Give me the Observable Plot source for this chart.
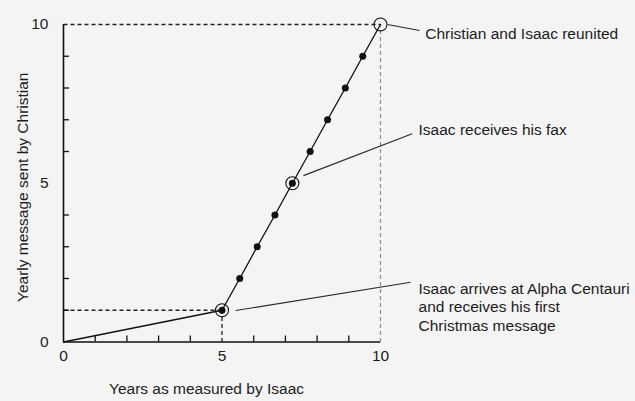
<!DOCTYPE html>
<html>
<head>
<meta charset="utf-8">
<script src="https://cdn.jsdelivr.net/npm/d3@7"></script>
<script src="https://cdn.jsdelivr.net/npm/@observablehq/plot@0.6"></script>
<style>
  html, body { margin: 0; padding: 0; background: #f4f4f4; }
  #chart svg { display: block; background: #f4f4f4; }
</style>
</head>
<body>
<div id="chart"></div>
<script>
// Years as measured by Isaac (x) for each yearly message sent by Christian (y)
const isaacYears = [0, 5, 5.56, 6.11, 6.67, 7.22, 7.78, 8.33, 8.89, 9.44, 10];
const christianMessages = [0, 1, 2, 3, 4, 5, 6, 7, 8, 9, 10];

// Highlighted events
const eventYears = [5, 7.22, 10];
const eventMessages = [1, 5, 10];
const eventLabels = [
  "Isaac arrives at Alpha Centauri\nand receives his first\nChristmas message",
  "Isaac receives his fax",
  "Christian and Isaac reunited"
];
// label anchors (data units)
const labelYears = [11.2, 11.2, 11.41];
const labelMessages = [1.12, 6.72, 9.72];
// leader lines (data units)
const leaderStartX = [5.43, 7.57, 10.22];
const leaderStartY = [0.99, 5.24, 10.0];
const leaderEndX = [10.95, 11.0, 11.23];
const leaderEndY = [1.88, 6.56, 9.81];

// tick values
const majorTicks = [0, 5, 10];
const minorTicks = [1, 2, 3, 4, 6, 7, 8, 9];

const series = isaacYears.map((x, i) => ({x, y: christianMessages[i]}));
const dots = series.filter(d => d.y > 0 && d.y < 10);
const events = eventYears.map((x, i) => ({
  x, y: eventMessages[i], label: eventLabels[i],
  lx: labelYears[i], ly: labelMessages[i],
  sx: leaderStartX[i], sy: leaderStartY[i], ex: leaderEndX[i], ey: leaderEndY[i]
}));
const guided = [events[0], events[2]];

const font = "Liberation Sans, Arial, Helvetica, sans-serif";
const fs = 15.5;
const ink = "#1c1c1c";

const chart = Plot.plot({
  width: 635,
  height: 401,
  marginLeft: 63,
  marginRight: 255,
  marginTop: 24,
  marginBottom: 59.5,
  style: {fontFamily: font, fontSize: fs + "px", color: ink, background: "#f4f4f4", overflow: "visible"},
  x: {domain: [0, 10]},
  y: {domain: [0, 10]},
  marks: [
    // guide lines
    Plot.link(guided, {x1: 0, y1: "y", x2: "x", y2: "y", stroke: "#222", strokeWidth: 1.3, strokeDasharray: "4,3"}),
    Plot.link([events[0]], {x1: "x", y1: 0, x2: "x", y2: "y", stroke: "#222", strokeWidth: 1.3, strokeDasharray: "4,3"}),
    Plot.link([events[2]], {x1: "x", y1: 0, x2: "x", y2: "y", stroke: "#8a8a8a", strokeWidth: 1.2, strokeDasharray: "4,3"}),
    // axes lines
    Plot.ruleX([0], {stroke: "#111", strokeWidth: 1.6}),
    Plot.ruleY([0], {stroke: "#111", strokeWidth: 1.6}),
    // inward minor ticks
    Plot.axisY(minorTicks, {tickSize: -6, tickFormat: () => "", stroke: "#111", strokeWidth: 1.3}),
    Plot.axisX(minorTicks, {tickSize: -6, tickFormat: () => "", stroke: "#111", strokeWidth: 1.3}),
    // tick labels
    Plot.axisY(majorTicks, {tickSize: 0, tickPadding: 15, fontSize: fs, fill: ink}),
    Plot.axisX(majorTicks, {tickSize: 0, tickPadding: 8, fontSize: fs, fill: ink}),
    // axis titles
    Plot.text(["Yearly message sent by Christian"], {frameAnchor: "left", text: d => d, rotate: -90, dx: -36, dy: 4, lineAnchor: "bottom", textAnchor: "middle", fontSize: fs, fill: ink}),
    Plot.text(["Years as measured by Isaac"], {frameAnchor: "bottom", text: d => d, dx: -15.5, dy: 51.5, lineAnchor: "bottom", textAnchor: "middle", fontSize: fs, fill: ink}),
    // main line
    Plot.line(series, {x: "x", y: "y", stroke: "#111", strokeWidth: 1.3}),
    Plot.dot(dots, {x: "x", y: "y", r: 3.5, fill: "#111", stroke: "none"}),
    Plot.dot(events, {x: "x", y: "y", r: 6.5, fill: "none", stroke: "#111", strokeWidth: 1.1}),
    // leaders and labels
    Plot.link(events, {x1: "sx", y1: "sy", x2: "ex", y2: "ey", stroke: "#2a2a2a", strokeWidth: 1.1}),
    Plot.text(events, {x: "lx", y: "ly", text: "label", textAnchor: "start", lineAnchor: "middle", lineHeight: 1.2, fontSize: fs, fill: ink})
  ]
});
document.getElementById("chart").appendChild(chart);
</script>
</body>
</html>
